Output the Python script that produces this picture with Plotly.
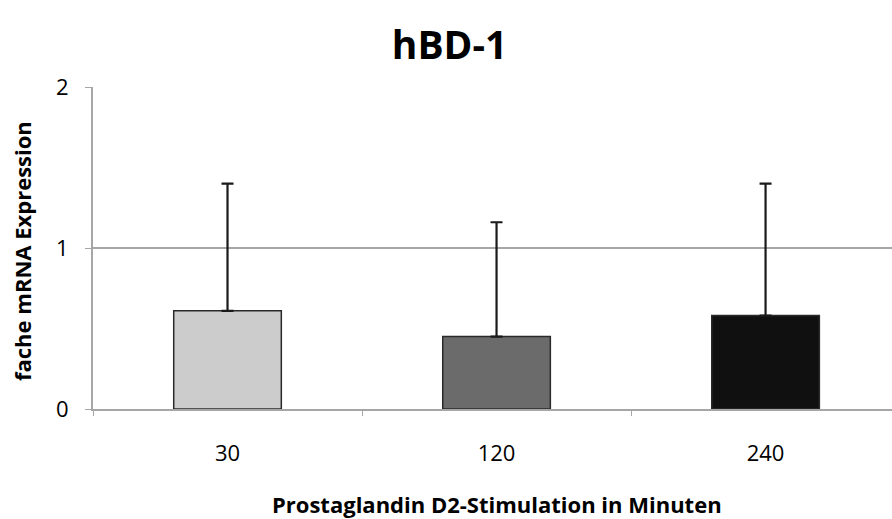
import plotly.graph_objects as go

categories = ["30", "120", "240"]
values = [0.61, 0.45, 0.58]
error_top = [1.40, 1.16, 1.40]
bar_colors = ["#cccccc", "#6b6b6b", "#101010"]
y_ticks = [0, 1, 2]

err_plus = [t - v for t, v in zip(error_top, values)]

FONT = "Open Sans, Lato, sans-serif"

fig = go.Figure()
fig.add_trace(go.Bar(
    x=categories, y=values,
    marker=dict(color=bar_colors, line=dict(color="#2a2a2a", width=1.5)),
    error_y=dict(type="data", symmetric=False, array=err_plus,
                 arrayminus=[0] * len(values),
                 color="#1a1a1a", thickness=2.2, width=6),
    width=0.4,
))

fig.update_layout(
    width=892, height=519,
    margin=dict(l=93, r=0, t=87, b=110),
    plot_bgcolor="white", paper_bgcolor="white",
    showlegend=False,
    title=dict(text="<b>hBD-1</b>", x=0.504, xanchor="center",
               y=1 - 45 / 519, yanchor="middle",
               font=dict(family=FONT, size=39, color="#000000")),
    font=dict(family=FONT, color="#000000"),
    xaxis=dict(
        type="category", range=[-0.5, 2.47],
        showline=True, linecolor="#a6a6a6", linewidth=2,
        ticks="outside", tickson="boundaries", ticklen=5, tickcolor="#a6a6a6", tickwidth=1,
        tickfont=dict(size=22, family=FONT, color="#000000"),
        ticklabelstandoff=24,
        showgrid=False,
    ),
    yaxis=dict(
        range=[0, 2], tickvals=y_ticks,
        showline=True, linecolor="#a6a6a6", linewidth=2,
        ticks="outside", ticklen=6, tickcolor="#a6a6a6", tickwidth=1,
        tickfont=dict(size=22, family=FONT, color="#000000"),
        ticklabelstandoff=12,
        showgrid=True, gridcolor="#a6a6a6", gridwidth=1.5,
        zeroline=False,
    ),
    annotations=[
        dict(text="<b>Prostaglandin D2-Stimulation in Minuten</b>",
             xref="paper", yref="paper", x=(497 - 93) / 799, y=(409 - 504) / 322,
             xanchor="center", yanchor="middle", showarrow=False,
             font=dict(family=FONT, size=22, color="#000000")),
        dict(text="<b>fache mRNA Expression</b>",
             xref="paper", yref="paper", x=(22 - 93) / 799, y=(409 - 251) / 322,
             xanchor="center", yanchor="middle", showarrow=False, textangle=-90,
             font=dict(family=FONT, size=22, color="#000000")),
    ],
)

fig.write_html("out.html")
